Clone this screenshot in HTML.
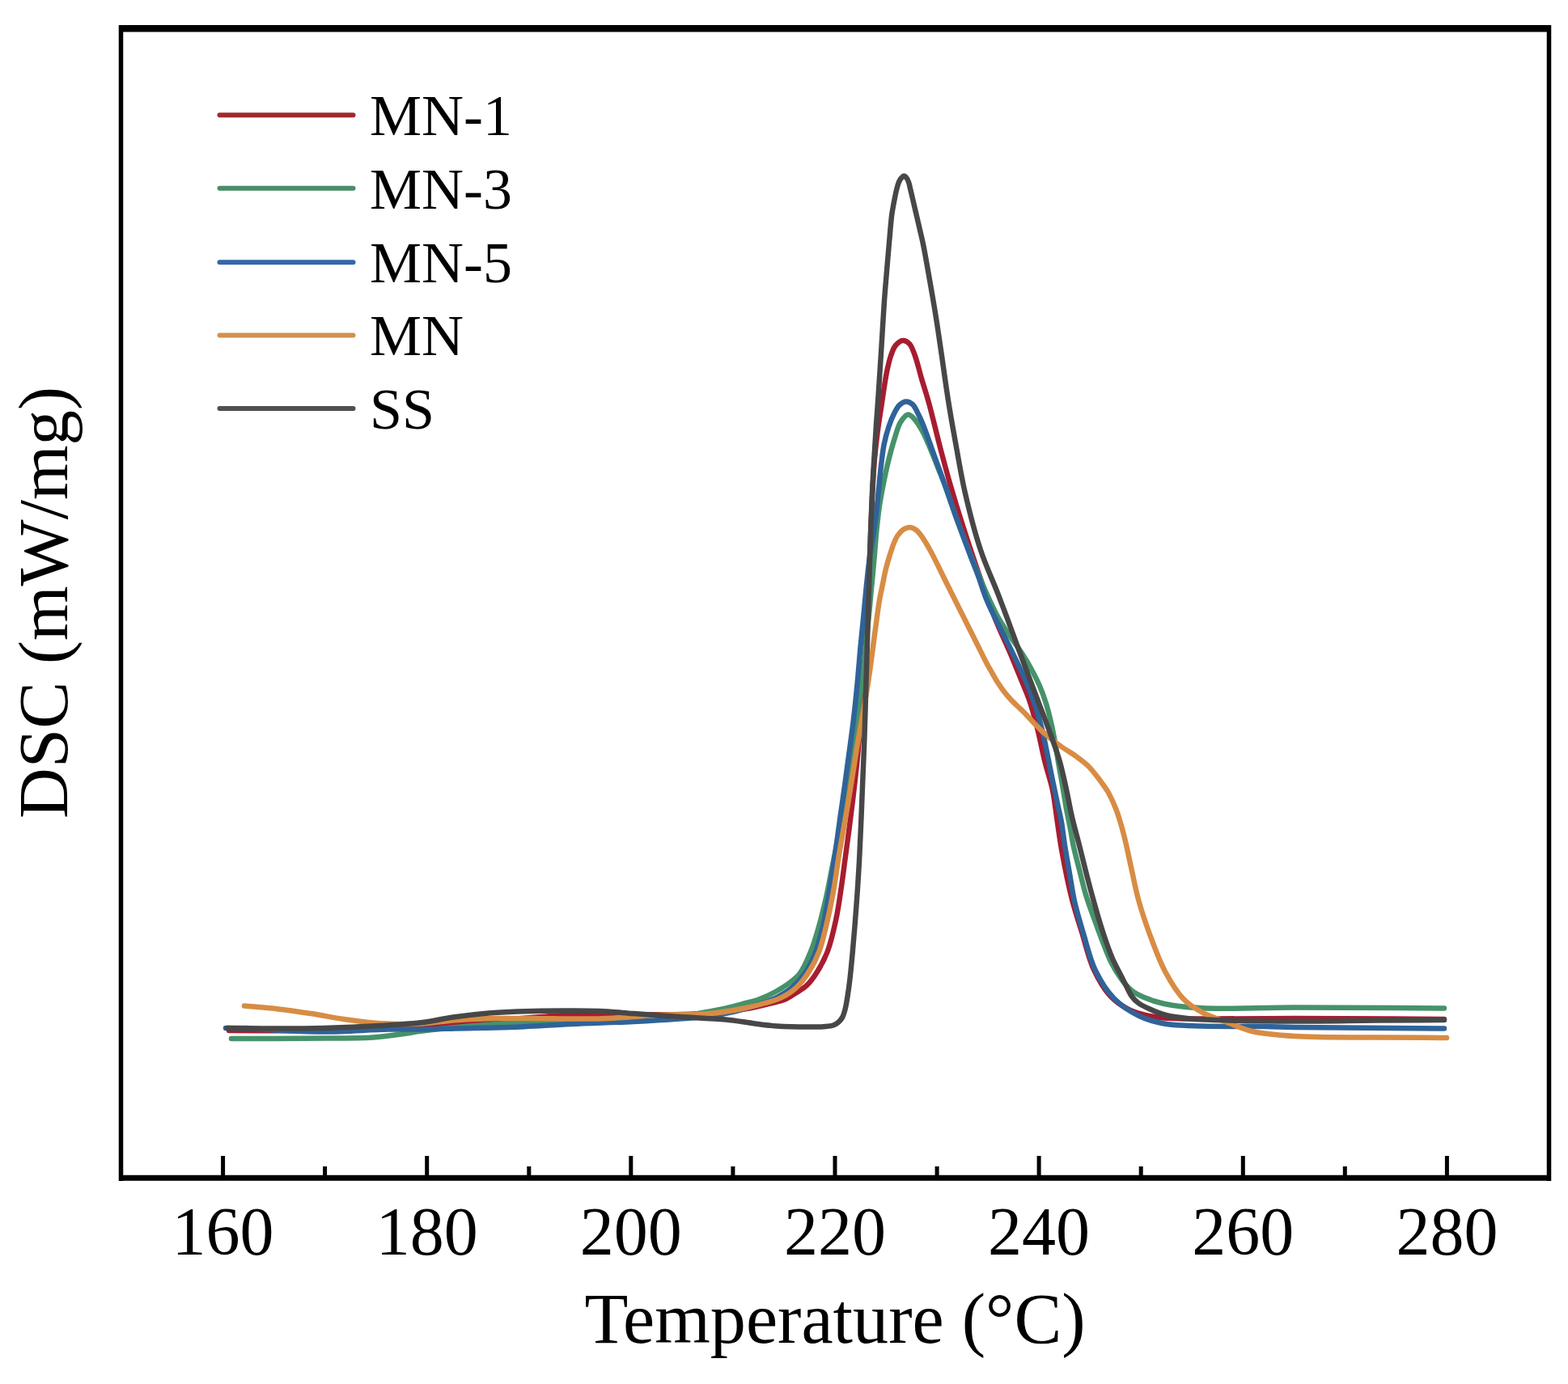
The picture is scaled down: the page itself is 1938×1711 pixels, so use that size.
<!DOCTYPE html>
<html><head><meta charset="utf-8"><title>DSC</title>
<style>
html,body{margin:0;padding:0;background:#fff;width:1938px;height:1711px;overflow:hidden}
svg{display:block}
text{font-family:"Liberation Serif","Times New Roman",serif;fill:#000}
</style></head>
<body>
<svg width="1938" height="1711" viewBox="0 0 1938 1711">
<rect x="0" y="0" width="1938" height="1711" fill="#fff"/>
<g fill="none" stroke-width="6.5" stroke-linejoin="round" stroke-linecap="round">
<path d="M283.0 1274.0 C322.0 1274.0 362.5 1274.7 400.0 1274.0 C434.6 1273.3 466.7 1271.8 500.0 1270.0 C533.3 1268.2 566.7 1265.5 600.0 1263.0 C633.3 1260.5 666.6 1256.4 700.0 1255.0 C733.3 1253.6 769.6 1254.9 800.0 1254.5 C825.4 1254.2 848.7 1254.4 870.0 1253.0 C888.1 1251.8 905.5 1249.9 920.0 1247.5 C931.3 1245.7 940.9 1243.3 950.0 1241.0 C957.8 1239.1 965.3 1237.6 971.4 1235.0 C976.4 1232.8 980.0 1230.0 984.3 1227.2 C988.6 1224.4 993.2 1222.0 997.2 1218.2 C1001.8 1213.8 1006.0 1207.9 1010.0 1201.5 C1014.7 1194.0 1019.2 1185.5 1022.9 1175.8 C1027.2 1164.4 1030.4 1150.0 1033.2 1137.0 C1036.0 1124.2 1037.7 1111.4 1039.6 1098.6 C1041.5 1085.8 1043.1 1072.6 1044.8 1060.0 C1046.4 1048.0 1047.9 1037.1 1049.5 1025.0 C1051.2 1012.1 1052.9 998.7 1054.5 985.0 C1056.2 970.4 1058.0 955.2 1059.5 940.0 C1061.0 924.5 1062.2 908.3 1063.5 893.0 C1064.7 878.3 1065.9 864.9 1067.0 850.0 C1068.1 834.0 1069.1 816.7 1070.0 800.0 C1070.9 783.3 1071.7 766.7 1072.5 750.0 C1073.2 733.3 1073.8 716.7 1074.5 700.0 C1075.2 683.3 1075.8 666.2 1076.5 650.0 C1077.2 634.6 1077.7 619.4 1078.5 605.0 C1079.2 591.8 1079.9 579.1 1081.0 567.0 C1082.0 555.9 1083.1 546.0 1084.5 535.0 C1086.0 523.1 1088.1 510.4 1090.0 498.0 C1091.9 485.4 1093.8 470.6 1096.0 460.0 C1097.6 452.2 1098.9 445.9 1101.0 440.0 C1102.7 435.1 1104.2 430.2 1107.0 427.0 C1109.4 424.2 1113.0 421.2 1116.0 421.0 C1118.7 420.8 1121.7 422.7 1124.0 425.0 C1127.1 428.2 1128.8 434.1 1131.0 440.0 C1133.9 447.8 1136.2 458.5 1139.0 468.0 C1141.9 477.8 1144.8 486.3 1148.0 498.0 C1152.5 514.3 1158.2 538.8 1163.0 557.0 C1167.2 572.8 1170.7 586.0 1175.0 601.0 C1179.6 616.9 1184.5 632.9 1190.0 650.0 C1196.1 669.0 1203.2 690.5 1210.0 710.0 C1216.5 728.8 1223.2 748.1 1230.0 765.0 C1235.9 779.8 1242.4 792.9 1248.0 806.0 C1253.0 817.8 1257.7 829.5 1262.0 840.0 C1265.6 849.0 1268.9 855.9 1272.0 865.0 C1275.6 875.6 1278.9 887.8 1282.0 900.0 C1285.4 913.3 1288.2 928.7 1291.5 942.0 C1294.5 954.2 1298.6 965.4 1301.0 977.0 C1303.3 988.1 1304.3 998.5 1306.0 1010.0 C1307.9 1022.7 1309.4 1035.3 1312.0 1050.0 C1315.3 1068.5 1320.3 1093.7 1325.0 1112.0 C1328.8 1126.9 1332.7 1138.1 1337.0 1152.0 C1341.7 1167.1 1345.6 1185.2 1352.0 1199.0 C1357.6 1211.1 1364.2 1222.6 1372.0 1231.0 C1378.8 1238.4 1386.8 1243.8 1395.0 1248.0 C1402.8 1252.0 1411.2 1254.2 1420.0 1256.0 C1429.4 1258.0 1438.7 1258.4 1450.0 1259.0 C1464.5 1259.8 1480.5 1259.5 1500.0 1259.5 C1527.6 1259.6 1561.6 1259.0 1600.0 1259.0 C1652.3 1259.0 1723.3 1259.7 1785.0 1260.0" stroke="#a81c30"/>
<path d="M286.0 1284.0 C304.7 1284.0 322.9 1284.1 342.0 1284.0 C362.1 1283.9 383.8 1283.8 404.0 1283.5 C423.4 1283.3 443.9 1283.7 461.0 1282.5 C475.0 1281.6 488.5 1279.4 499.0 1278.0 C506.4 1277.0 511.2 1275.9 518.0 1275.0 C525.8 1273.9 533.0 1273.0 543.0 1272.0 C558.1 1270.4 578.3 1268.6 600.0 1267.0 C628.7 1264.9 670.4 1262.2 700.0 1261.0 C723.7 1260.0 741.8 1260.3 764.0 1259.5 C788.3 1258.7 817.4 1258.3 840.0 1256.0 C858.5 1254.1 875.5 1251.0 890.0 1248.0 C901.3 1245.7 911.1 1242.9 920.0 1240.5 C927.2 1238.6 933.0 1237.4 939.3 1235.0 C945.8 1232.6 952.9 1229.1 958.6 1226.0 C963.4 1223.4 967.0 1221.4 971.4 1218.2 C976.8 1214.3 983.4 1210.2 988.2 1204.0 C994.0 1196.6 998.3 1185.7 1002.3 1175.8 C1006.5 1165.6 1009.5 1154.5 1012.6 1143.6 C1015.7 1132.6 1018.4 1121.3 1021.0 1110.0 C1023.6 1098.5 1025.7 1086.7 1028.0 1075.0 C1030.3 1063.3 1032.7 1051.7 1035.0 1040.0 C1037.3 1028.3 1039.8 1017.1 1042.0 1005.0 C1044.3 992.1 1046.4 978.3 1048.5 965.0 C1050.6 951.7 1052.6 938.3 1054.5 925.0 C1056.4 911.7 1058.2 898.3 1060.0 885.0 C1061.7 871.7 1063.4 858.3 1065.0 845.0 C1066.6 831.7 1068.1 818.3 1069.5 805.0 C1070.9 791.7 1072.2 778.1 1073.5 765.0 C1074.7 752.4 1075.8 740.4 1077.0 728.0 C1078.2 715.4 1079.4 702.4 1080.5 690.0 C1081.6 678.1 1082.4 666.2 1083.5 655.0 C1084.6 644.6 1085.6 634.5 1087.0 625.0 C1088.3 616.3 1089.8 608.6 1091.5 600.0 C1093.3 590.9 1095.2 581.5 1097.5 572.0 C1099.9 562.1 1102.9 550.9 1105.7 542.0 C1108.1 534.6 1109.7 527.2 1113.0 522.0 C1115.6 517.9 1119.3 512.7 1122.5 512.5 C1125.3 512.3 1128.4 516.1 1131.0 519.0 C1134.3 522.6 1137.1 527.7 1140.0 533.0 C1143.5 539.4 1146.8 547.4 1150.0 555.0 C1153.4 563.0 1156.9 572.1 1160.0 580.0 C1162.8 587.0 1165.0 592.0 1168.0 600.0 C1172.3 611.6 1177.7 628.6 1183.0 643.0 C1188.4 657.6 1194.3 672.8 1200.0 687.0 C1205.3 700.4 1210.4 713.3 1216.0 726.0 C1221.4 738.3 1227.2 751.4 1233.0 762.0 C1237.9 771.0 1243.0 778.4 1248.0 786.0 C1252.7 793.0 1257.6 799.3 1262.0 806.0 C1266.3 812.6 1270.2 819.1 1274.0 826.0 C1277.9 833.1 1281.8 840.6 1285.0 848.0 C1288.1 855.2 1290.7 862.5 1293.0 870.0 C1295.3 877.5 1297.2 885.1 1299.0 893.0 C1300.9 901.1 1302.5 909.7 1304.0 918.0 C1305.5 926.1 1306.6 933.7 1308.0 942.0 C1309.5 951.0 1311.4 960.5 1313.0 970.0 C1314.7 979.8 1316.3 990.5 1318.0 1000.0 C1319.6 1008.7 1321.5 1016.9 1323.0 1025.0 C1324.4 1032.6 1325.3 1039.3 1327.0 1047.0 C1328.9 1055.8 1331.6 1065.4 1334.0 1075.0 C1336.6 1085.1 1339.0 1095.9 1342.0 1106.0 C1345.0 1115.9 1348.6 1125.5 1352.0 1135.0 C1355.3 1144.2 1358.5 1153.0 1362.0 1162.0 C1365.5 1171.0 1368.9 1180.8 1373.0 1189.0 C1376.7 1196.3 1380.6 1203.0 1385.0 1209.0 C1389.0 1214.6 1393.0 1220.0 1398.0 1224.0 C1402.8 1227.9 1407.9 1230.4 1414.0 1233.0 C1421.3 1236.2 1429.2 1238.9 1439.0 1241.0 C1452.1 1243.8 1466.9 1245.3 1486.0 1246.3 C1515.7 1247.9 1557.4 1245.5 1600.0 1245.5 C1654.2 1245.5 1723.3 1246.2 1785.0 1246.5" stroke="#46926a"/>
<path d="M279.0 1271.0 C287.7 1271.0 295.2 1270.7 305.0 1271.0 C318.0 1271.4 334.3 1273.3 350.0 1274.0 C367.2 1274.8 384.5 1275.6 404.0 1275.5 C427.2 1275.4 458.4 1272.9 480.0 1272.5 C496.1 1272.2 508.1 1272.7 522.0 1272.5 C535.8 1272.3 547.7 1271.9 563.0 1271.5 C582.6 1271.0 607.0 1270.9 630.0 1270.0 C654.5 1269.1 680.6 1267.2 706.0 1266.0 C731.6 1264.8 759.3 1264.2 783.0 1263.0 C803.4 1262.0 822.9 1260.8 840.0 1259.5 C854.0 1258.4 865.9 1257.7 878.0 1256.0 C889.2 1254.4 899.6 1252.5 910.0 1250.0 C920.2 1247.5 930.8 1244.2 940.0 1241.0 C948.0 1238.2 955.2 1235.6 962.0 1232.0 C968.5 1228.6 974.6 1224.8 980.0 1220.0 C985.6 1215.1 990.6 1209.4 995.0 1203.0 C999.7 1196.2 1003.6 1188.4 1007.0 1180.0 C1010.7 1170.8 1013.5 1160.1 1016.0 1150.0 C1018.5 1140.1 1020.2 1130.0 1022.0 1120.0 C1023.8 1110.0 1025.3 1100.7 1027.0 1090.0 C1029.0 1077.6 1031.1 1063.3 1033.0 1050.0 C1034.9 1036.7 1036.7 1022.9 1038.5 1010.0 C1040.2 997.9 1041.9 986.8 1043.5 975.0 C1045.2 962.8 1046.8 950.9 1048.5 938.0 C1050.4 923.7 1052.7 908.2 1054.5 893.0 C1056.4 877.5 1058.0 861.6 1059.5 846.0 C1061.0 830.6 1062.2 814.3 1063.5 800.0 C1064.7 787.5 1065.8 776.8 1067.0 765.0 C1068.2 752.8 1069.2 740.6 1070.5 728.0 C1071.9 714.9 1073.3 700.4 1075.0 688.0 C1076.5 677.3 1078.6 667.8 1080.0 658.0 C1081.4 648.5 1082.5 639.1 1083.5 630.0 C1084.5 621.4 1085.2 613.3 1086.0 605.0 C1086.8 596.7 1087.5 588.7 1088.5 580.0 C1089.6 570.4 1090.8 558.9 1092.6 549.6 C1094.2 541.6 1096.1 534.5 1098.4 527.7 C1100.5 521.4 1103.1 514.9 1105.7 510.0 C1107.7 506.2 1109.4 502.8 1112.0 500.5 C1114.3 498.5 1117.3 496.6 1120.0 496.5 C1122.7 496.4 1125.6 497.9 1128.0 500.0 C1131.2 502.9 1133.6 509.3 1136.0 514.0 C1138.3 518.6 1139.8 522.5 1142.0 528.0 C1145.1 535.9 1148.7 546.4 1152.5 557.0 C1157.2 569.9 1162.9 585.7 1168.0 600.0 C1173.1 614.3 1177.8 628.7 1183.0 643.0 C1188.2 657.4 1194.3 673.5 1199.0 686.0 C1202.7 695.8 1205.8 703.3 1209.0 712.0 C1212.2 720.6 1214.9 730.2 1218.0 738.0 C1220.6 744.6 1223.3 750.2 1226.0 756.0 C1228.6 761.5 1231.0 765.9 1234.0 772.0 C1238.0 780.0 1243.1 789.9 1248.0 800.0 C1253.7 811.7 1260.8 826.0 1266.0 838.0 C1270.6 848.5 1274.4 857.6 1278.0 868.0 C1281.8 878.9 1285.1 890.7 1288.0 902.0 C1290.8 913.0 1292.8 924.3 1295.0 935.0 C1297.1 945.2 1299.0 955.3 1301.0 965.0 C1302.9 974.2 1304.8 983.4 1306.7 992.0 C1308.4 1000.0 1310.2 1006.8 1311.7 1015.0 C1313.4 1024.3 1314.4 1034.6 1316.0 1045.0 C1317.8 1056.2 1320.0 1068.4 1322.0 1080.0 C1324.0 1091.4 1325.4 1102.3 1328.0 1114.0 C1330.9 1126.9 1334.9 1140.3 1339.0 1154.0 C1343.5 1168.8 1347.3 1186.2 1354.0 1200.0 C1360.2 1212.8 1367.7 1225.0 1377.0 1234.5 C1385.9 1243.5 1397.2 1250.8 1408.0 1256.0 C1418.0 1260.8 1427.5 1263.4 1439.0 1265.5 C1452.9 1268.0 1468.4 1267.9 1486.0 1268.5 C1508.5 1269.3 1542.0 1268.6 1563.0 1269.0 C1577.6 1269.2 1583.0 1269.7 1600.0 1270.0 C1638.1 1270.7 1723.3 1271.0 1785.0 1271.5" stroke="#2f6399"/>
<path d="M302.0 1243.5 C315.3 1244.7 328.5 1245.6 342.0 1247.2 C355.8 1248.8 370.1 1250.9 384.0 1253.0 C397.8 1255.1 411.8 1258.1 425.0 1260.0 C437.4 1261.8 448.7 1263.4 461.0 1264.4 C473.7 1265.4 488.8 1265.9 500.0 1266.0 C508.4 1266.1 513.4 1266.0 522.0 1265.5 C534.4 1264.7 551.7 1262.1 567.0 1261.0 C582.7 1259.9 599.3 1259.3 615.0 1259.0 C630.2 1258.7 642.9 1259.0 660.0 1259.0 C682.9 1259.1 713.3 1260.1 740.0 1259.4 C766.9 1258.7 797.1 1255.5 821.0 1254.6 C839.9 1253.9 855.3 1255.0 872.0 1253.6 C888.3 1252.2 906.5 1249.2 920.0 1246.5 C930.0 1244.5 937.8 1242.3 945.7 1240.0 C952.6 1238.0 958.8 1236.6 965.0 1233.6 C971.7 1230.4 978.6 1226.0 984.3 1220.8 C990.2 1215.4 995.1 1208.7 999.7 1201.5 C1004.6 1193.8 1008.9 1185.5 1012.6 1175.8 C1016.9 1164.4 1019.9 1149.9 1022.9 1137.0 C1025.9 1124.2 1028.3 1111.4 1030.6 1098.6 C1032.9 1085.8 1034.5 1072.3 1036.5 1060.0 C1038.3 1048.8 1040.2 1038.6 1042.0 1028.0 C1043.8 1017.6 1045.7 1007.8 1047.5 997.0 C1049.5 985.2 1051.6 972.2 1053.5 960.0 C1055.4 948.2 1057.1 936.4 1059.0 925.0 C1060.8 914.1 1062.7 903.6 1064.5 893.0 C1066.3 882.6 1068.3 872.4 1070.0 862.0 C1071.8 851.4 1073.5 840.5 1075.0 830.0 C1076.5 819.8 1077.7 810.0 1079.0 800.0 C1080.3 790.0 1081.6 779.8 1083.0 770.0 C1084.3 760.5 1085.5 750.5 1087.0 742.0 C1088.2 734.8 1089.7 728.4 1091.0 722.0 C1092.2 716.1 1093.2 710.3 1094.5 705.0 C1095.6 700.4 1096.8 696.1 1098.0 692.0 C1099.1 688.2 1100.3 684.6 1101.5 681.0 C1102.6 677.6 1103.6 674.2 1105.0 671.0 C1106.3 667.9 1107.6 664.7 1109.5 662.0 C1111.3 659.4 1113.5 656.7 1116.0 655.0 C1118.5 653.4 1121.7 652.0 1124.4 652.0 C1127.0 652.0 1129.7 653.4 1132.0 655.0 C1134.4 656.7 1136.4 659.4 1138.4 662.0 C1140.5 664.7 1142.4 668.0 1144.3 671.0 C1146.1 674.0 1147.5 676.4 1149.5 680.0 C1152.4 685.3 1156.4 693.3 1159.7 700.0 C1163.0 706.7 1166.2 713.3 1169.5 720.0 C1172.8 726.7 1176.2 733.3 1179.5 740.0 C1182.8 746.7 1186.2 753.3 1189.5 760.0 C1192.8 766.7 1196.2 773.3 1199.5 780.0 C1202.8 786.7 1206.2 793.3 1209.5 800.0 C1212.8 806.7 1216.5 814.3 1219.5 820.0 C1221.8 824.4 1223.8 827.6 1226.0 831.5 C1228.3 835.5 1230.5 839.6 1233.0 843.5 C1235.5 847.4 1238.2 851.4 1241.0 855.0 C1243.6 858.4 1246.3 861.5 1249.0 864.5 C1251.6 867.3 1254.3 869.9 1257.0 872.5 C1259.6 875.1 1262.4 877.4 1265.0 880.0 C1267.7 882.7 1270.4 885.8 1273.0 888.5 C1275.4 891.1 1277.6 893.5 1280.0 896.0 C1282.6 898.6 1284.6 900.9 1288.0 904.0 C1293.3 908.7 1301.9 915.8 1309.0 921.0 C1315.9 926.1 1323.7 930.4 1330.0 935.0 C1335.5 939.0 1340.3 942.4 1345.0 947.0 C1350.0 952.0 1354.7 958.3 1359.0 964.0 C1363.0 969.3 1366.7 974.1 1370.0 980.0 C1373.7 986.6 1377.0 994.0 1380.0 1002.0 C1383.4 1011.1 1386.2 1021.2 1389.0 1032.0 C1392.2 1044.3 1395.0 1058.7 1398.0 1072.0 C1401.0 1085.3 1403.3 1098.5 1407.0 1112.0 C1410.9 1126.2 1415.7 1140.5 1421.0 1155.0 C1426.6 1170.2 1432.6 1187.2 1440.0 1201.0 C1446.7 1213.5 1454.0 1225.9 1462.5 1234.7 C1469.7 1242.1 1477.3 1246.9 1486.0 1251.7 C1495.3 1256.8 1506.6 1260.1 1517.0 1264.0 C1527.3 1267.9 1536.2 1272.3 1548.0 1275.0 C1562.9 1278.5 1579.8 1279.7 1600.0 1281.0 C1627.9 1282.8 1667.7 1282.2 1700.0 1282.5 C1730.3 1282.8 1758.7 1282.8 1788.0 1283.0" stroke="#d88c44"/>
<path d="M281.0 1271.0 C297.3 1271.2 312.2 1271.5 330.0 1271.5 C351.3 1271.5 376.7 1271.6 400.0 1271.0 C423.3 1270.4 448.4 1269.3 470.0 1268.0 C488.6 1266.9 506.1 1266.0 522.0 1264.0 C535.7 1262.3 546.8 1259.4 560.0 1257.5 C574.1 1255.5 590.1 1253.7 604.0 1252.5 C616.6 1251.4 626.5 1251.0 640.0 1250.5 C657.5 1249.9 681.9 1249.5 700.0 1249.5 C715.0 1249.5 727.3 1249.4 741.0 1250.0 C754.9 1250.6 767.9 1251.9 783.0 1253.0 C800.6 1254.2 821.0 1255.7 840.0 1257.0 C859.0 1258.2 880.6 1258.9 897.0 1260.5 C909.5 1261.7 919.3 1263.6 930.0 1265.0 C940.2 1266.3 949.3 1267.7 960.0 1268.5 C972.4 1269.4 989.0 1269.5 1000.0 1269.5 C1007.8 1269.5 1014.5 1269.5 1020.0 1269.0 C1023.9 1268.7 1027.2 1268.5 1030.0 1267.5 C1032.3 1266.7 1034.2 1265.5 1036.0 1264.0 C1037.9 1262.4 1039.6 1260.4 1041.0 1258.0 C1042.6 1255.2 1043.5 1251.8 1044.5 1248.0 C1045.7 1243.3 1046.6 1237.8 1047.5 1232.0 C1048.6 1225.3 1049.6 1217.9 1050.5 1210.0 C1051.6 1200.8 1052.5 1190.4 1053.5 1180.0 C1054.5 1168.8 1055.5 1157.1 1056.5 1145.0 C1057.5 1132.1 1058.6 1118.3 1059.5 1105.0 C1060.4 1091.7 1061.2 1079.4 1062.0 1065.0 C1062.9 1048.1 1063.7 1027.9 1064.5 1010.0 C1065.2 992.9 1065.8 976.7 1066.5 960.0 C1067.2 943.3 1067.9 926.7 1068.5 910.0 C1069.1 893.3 1069.5 876.7 1070.0 860.0 C1070.5 843.3 1071.0 826.7 1071.5 810.0 C1072.0 793.3 1072.5 776.7 1073.0 760.0 C1073.5 743.3 1074.0 726.7 1074.5 710.0 C1075.0 693.3 1075.4 676.7 1076.0 660.0 C1076.6 643.3 1077.2 626.2 1078.0 610.0 C1078.7 594.6 1079.6 579.6 1080.5 565.0 C1081.3 551.3 1082.1 537.9 1083.0 525.0 C1083.8 512.9 1084.7 501.9 1085.5 490.0 C1086.4 477.6 1087.2 464.8 1088.0 452.0 C1088.8 438.8 1089.7 425.3 1090.5 412.0 C1091.3 398.7 1092.1 385.1 1093.0 372.0 C1093.9 359.4 1095.0 347.2 1096.0 335.0 C1097.0 323.2 1098.0 311.7 1099.0 300.0 C1100.1 288.3 1101.0 274.7 1102.3 265.0 C1103.3 258.0 1104.4 252.6 1105.5 247.0 C1106.5 242.0 1107.4 237.0 1108.5 233.0 C1109.3 229.9 1110.0 227.3 1111.0 225.0 C1111.9 223.1 1112.8 221.3 1114.0 220.0 C1115.0 218.9 1116.2 217.5 1117.3 217.5 C1118.4 217.5 1119.6 218.9 1120.5 220.0 C1121.6 221.3 1122.3 223.1 1123.0 225.0 C1123.9 227.3 1124.3 230.0 1125.0 233.0 C1126.0 237.0 1127.1 242.0 1128.3 247.0 C1129.6 252.6 1131.1 259.0 1132.5 265.0 C1133.9 271.1 1135.4 277.3 1136.8 283.5 C1138.2 289.7 1139.5 294.5 1141.0 302.0 C1143.4 313.5 1146.4 331.3 1149.0 346.0 C1151.6 360.7 1154.1 374.9 1156.5 390.0 C1159.1 406.1 1161.5 422.9 1164.0 440.0 C1166.6 457.9 1169.1 476.7 1172.0 495.0 C1174.9 513.4 1178.1 531.3 1181.5 550.0 C1185.1 569.6 1188.2 589.3 1193.0 610.0 C1198.2 632.5 1204.8 658.5 1212.0 680.0 C1218.3 699.1 1227.2 718.0 1233.0 733.0 C1237.3 744.1 1240.1 751.7 1244.0 762.0 C1248.4 773.8 1253.2 786.9 1258.0 800.0 C1263.1 813.9 1268.8 829.2 1274.0 843.0 C1278.8 855.8 1283.5 868.1 1288.0 880.0 C1292.2 891.1 1296.3 901.5 1300.0 912.0 C1303.6 922.1 1307.1 931.6 1310.0 942.0 C1313.1 952.9 1315.5 964.6 1318.0 976.0 C1320.5 987.3 1322.3 998.5 1325.0 1010.0 C1327.8 1022.1 1331.4 1034.6 1334.5 1047.0 C1337.7 1059.6 1340.7 1072.4 1344.0 1085.0 C1347.2 1097.4 1350.6 1110.0 1354.0 1122.0 C1357.2 1133.3 1360.4 1144.3 1364.0 1155.0 C1367.4 1165.3 1371.1 1175.9 1375.0 1185.0 C1378.5 1193.0 1382.7 1200.5 1386.0 1207.0 C1388.6 1212.2 1390.7 1216.6 1393.0 1221.0 C1395.0 1224.9 1396.6 1228.8 1399.0 1232.0 C1401.3 1235.1 1403.8 1237.6 1407.0 1240.0 C1410.6 1242.7 1415.1 1244.7 1420.0 1247.0 C1426.1 1249.8 1433.2 1253.0 1441.0 1255.0 C1450.2 1257.4 1461.8 1258.5 1472.0 1259.5 C1481.8 1260.5 1488.5 1260.6 1501.0 1261.0 C1524.2 1261.8 1566.9 1262.4 1600.0 1262.5 C1633.2 1262.6 1668.0 1261.8 1700.0 1261.5 C1729.5 1261.3 1756.7 1261.2 1785.0 1261.0" stroke="#474747"/>
</g>
<g stroke="#000" stroke-width="5">
<line x1="275.6" y1="1429" x2="275.6" y2="1456"/>
<line x1="401.6" y1="1442" x2="401.6" y2="1456"/>
<line x1="527.7" y1="1429" x2="527.7" y2="1456"/>
<line x1="653.8" y1="1442" x2="653.8" y2="1456"/>
<line x1="779.8" y1="1429" x2="779.8" y2="1456"/>
<line x1="905.9" y1="1442" x2="905.9" y2="1456"/>
<line x1="1032.0" y1="1429" x2="1032.0" y2="1456"/>
<line x1="1158.1" y1="1442" x2="1158.1" y2="1456"/>
<line x1="1284.1" y1="1429" x2="1284.1" y2="1456"/>
<line x1="1410.2" y1="1442" x2="1410.2" y2="1456"/>
<line x1="1536.3" y1="1429" x2="1536.3" y2="1456"/>
<line x1="1662.3" y1="1442" x2="1662.3" y2="1456"/>
<line x1="1788.4" y1="1429" x2="1788.4" y2="1456"/>
</g>
<g stroke="#000" fill="none">
<line x1="147" y1="35.2" x2="1917" y2="35.2" stroke-width="8.4"/>
<line x1="147" y1="1456.3" x2="1917" y2="1456.3" stroke-width="7"/>
<line x1="149.5" y1="31" x2="149.5" y2="1460" stroke-width="5.5"/>
<line x1="1914.5" y1="31" x2="1914.5" y2="1460" stroke-width="5.5"/>
</g>
<g font-size="72" stroke-linecap="butt">
<line x1="271.5" y1="142.2" x2="436.5" y2="142.2" stroke="#a1282f" stroke-width="6" stroke-linecap="round"/>
<text x="457" y="167.0">MN-1</text>
<line x1="271.5" y1="232.8" x2="436.5" y2="232.8" stroke="#4a8d6a" stroke-width="6" stroke-linecap="round"/>
<text x="457" y="257.6">MN-3</text>
<line x1="271.5" y1="324.2" x2="436.5" y2="324.2" stroke="#3667a8" stroke-width="6" stroke-linecap="round"/>
<text x="457" y="349.0">MN-5</text>
<line x1="271.5" y1="414.6" x2="436.5" y2="414.6" stroke="#d2914c" stroke-width="6" stroke-linecap="round"/>
<text x="457" y="439.4">MN</text>
<line x1="271.5" y1="505.0" x2="436.5" y2="505.0" stroke="#505050" stroke-width="6" stroke-linecap="round"/>
<text x="457" y="529.8">SS</text>
</g>
<g font-size="84" text-anchor="middle">
<text x="275.6" y="1551">160</text>
<text x="527.7" y="1551">180</text>
<text x="779.8" y="1551">200</text>
<text x="1032.0" y="1551">220</text>
<text x="1284.1" y="1551">240</text>
<text x="1536.3" y="1551">260</text>
<text x="1788.4" y="1551">280</text>
</g>
<text x="1032" y="1660" font-size="88.2" text-anchor="middle">Temperature (°C)</text>
<text transform="translate(83.3 745) rotate(-90)" font-size="87" text-anchor="middle">DSC (mW/mg)</text>
</svg>
</body></html>
